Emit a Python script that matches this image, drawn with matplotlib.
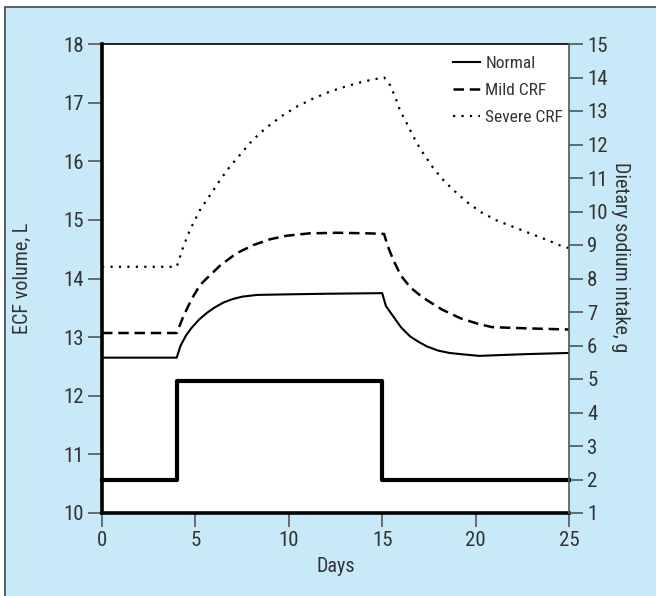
import matplotlib.pyplot as plt
from matplotlib.patches import Rectangle

# ECF volume (L), by day
normal_days = [0, 4, 4.2, 4.5, 4.8, 5.2, 5.6, 6.0, 6.5, 7.0, 7.5, 8.3, 10, 12, 15,
               15.2, 15.6, 16.0, 16.5, 17.0, 17.4, 18.0, 18.6, 19.2, 20.2, 21, 22.7, 25]
normal = [12.65, 12.65, 12.85, 13.03, 13.16, 13.30, 13.41, 13.50, 13.59, 13.65,
          13.69, 13.72, 13.73, 13.74, 13.75, 13.53, 13.35, 13.17, 13.01, 12.91,
          12.84, 12.77, 12.73, 12.71, 12.68, 12.69, 12.71, 12.73]

mild_days = [0, 4, 4.35, 4.8, 5.25, 5.6, 6.32, 7.2, 8.1, 9.0, 9.9, 11.1, 12.6,
             14.3, 15.1, 15.3, 15.6, 16.0, 16.5, 17.0, 17.4, 18.2, 19.2, 20.2,
             20.9, 22.7, 25]
mild = [13.07, 13.07, 13.35, 13.65, 13.89, 14.0, 14.22, 14.43, 14.57, 14.67,
        14.73, 14.77, 14.78, 14.77, 14.76, 14.55, 14.31, 14.05, 13.85, 13.72,
        13.63, 13.47, 13.32, 13.22, 13.17, 13.15, 13.13]

severe_days = [0, 4, 4.35, 4.71, 5.25, 5.78, 6.32, 6.85, 7.39, 7.92, 8.46, 8.99,
               9.71, 10.42, 11.31, 12.21, 13.1, 13.99, 15.1, 15.42, 15.69, 15.95,
               16.31, 16.67, 17.02, 17.38, 17.74, 18.27, 18.81, 19.52, 20.24,
               21.13, 22.02, 22.91, 23.81, 24.7, 25]
severe = [14.2, 14.2, 14.54, 14.83, 15.17, 15.42, 15.68, 15.91, 16.11, 16.31,
          16.48, 16.62, 16.79, 16.93, 17.07, 17.19, 17.28, 17.36, 17.43, 17.30,
          17.10, 16.87, 16.65, 16.42, 16.22, 16.05, 15.88, 15.68, 15.51, 15.31,
          15.14, 14.99, 14.88, 14.77, 14.66, 14.54, 14.52]

# dietary sodium intake (g)
sodium_days = [0, 4, 15, 25]
sodium = [2, 4.95, 2, 2]

x_ticks = [0, 5, 10, 15, 20, 25]
left_ticks = list(range(10, 19))
right_ticks = list(range(1, 16))

bg = '#c8e9f8'
txt = '#333333'
plt.rcParams['font.family'] = ['Liberation Sans Narrow', 'Roboto Condensed',
                               'Open Sans Condensed', 'Liberation Sans', 'DejaVu Sans']
fs = 15
lab_fs = 14.5
leg_fs = 12.5

fig = plt.figure(figsize=(6.56, 5.96), dpi=100)
fig.patch.set_facecolor('white')
fig.patches.append(Rectangle((5 / 656, -0.1), 1.2, 1.1 - 7 / 596, transform=fig.transFigure,
                             facecolor=bg, edgecolor='#444444', linewidth=1.2, zorder=-10))

ax = fig.add_axes([102 / 656, 1 - 513 / 596, (569 - 102) / 656, (513 - 44) / 596])
ax.set_facecolor('white')
ax2 = ax.twinx()

ax.plot(normal_days, normal, color='black', lw=1.5, label='Normal')
ax.plot(mild_days, mild, color='black', lw=1.8, linestyle=(0, (4.2, 2.3)), label='Mild CRF')
ax.plot(severe_days, severe, color='black', lw=1.6, linestyle=(0, (1, 2.8)), label='Severe CRF')
ax2.plot(sodium_days, sodium, color='black', lw=3, drawstyle='steps-post', clip_on=False)

ax.set_xlim(0, 25)
ax.set_ylim(10, 18)
ax2.set_ylim(1, 15)
ax.set_xticks(x_ticks)
ax.set_yticks(left_ticks)
ax2.set_yticks(right_ticks)

for a in (ax, ax2):
    a.tick_params(direction='out', length=10, width=1.2, color='#555555',
                  labelcolor=txt, labelsize=fs, pad=3)
    for s in a.spines.values():
        s.set_visible(False)

ax.spines['left'].set_visible(True)
ax.spines['left'].set_linewidth(2.6)
ax.spines['left'].set_color('black')
ax.spines['bottom'].set_visible(True)
ax.spines['bottom'].set_linewidth(2.6)
ax.spines['bottom'].set_color('black')
ax.spines['top'].set_visible(True)
ax.spines['top'].set_linewidth(1.2)
ax.spines['top'].set_color('black')
ax2.spines['right'].set_visible(True)
ax2.spines['right'].set_linewidth(1.2)
ax2.spines['right'].set_color('#555555')

ax.set_xlabel('Days', color=txt, fontsize=lab_fs, labelpad=5)
ax.set_ylabel('ECF volume, L', color=txt, fontsize=lab_fs)
ax.yaxis.set_label_coords(-0.15, 0.5)
ax2.set_ylabel('Dietary sodium intake, g', color=txt, fontsize=lab_fs, rotation=270)
ax2.yaxis.set_label_coords(1.13, 0.546)

leg = ax.legend(loc='upper left', frameon=False, handlelength=1.55, handletextpad=0.29,
                labelspacing=0.68, fontsize=leg_fs, borderpad=0, borderaxespad=0,
                bbox_to_anchor=(0.752, 0.975))
for t in leg.get_texts():
    t.set_color(txt)

fig.savefig('out.png', dpi=100, facecolor=fig.get_facecolor())
